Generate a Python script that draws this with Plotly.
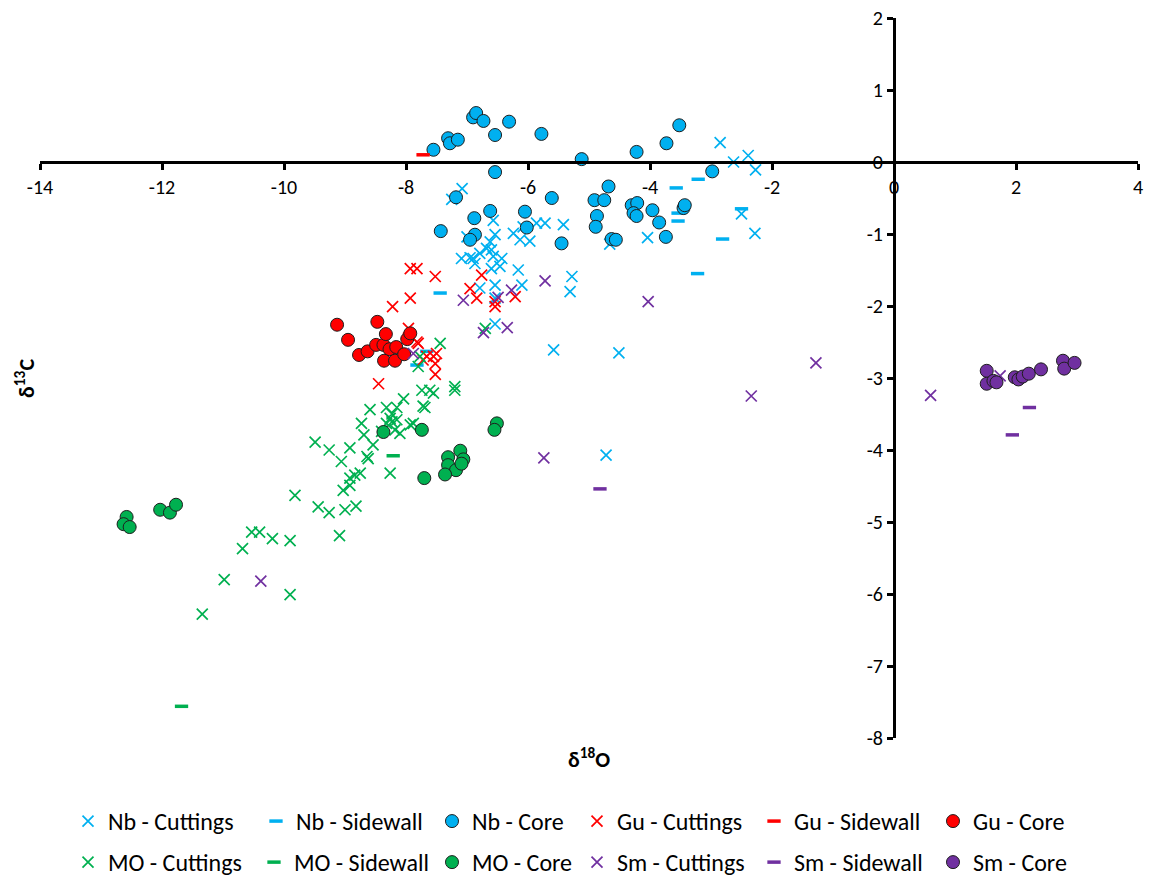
import plotly.graph_objects as go

# ---------------- data ----------------
nb_cut_x = [-2.85, -2.63, -2.39, -2.27, -7.08, -7.25, -2.50, -2.28, -4.04, -4.66,
            -6.57, -6.54, -6.62, -6.24, -6.13, -5.97, -6.08, -5.86, -5.72, -5.42, -7.00,
            -6.68, -6.79, -7.09, -6.90, -6.87, -6.57, -6.43, -6.60, -6.46, -6.16, -6.10,
            -6.54, -6.79, -5.28, -5.31, -6.54, -6.54, -5.58, -4.51, -4.72, -6.60, -6.95]
nb_cut_y = [0.27, 0.00, 0.09, -0.11, -0.37, -0.52, -0.72, -0.99, -1.05, -1.14,
            -0.81, -1.01, -1.11, -0.99, -1.08, -1.10, -0.90, -0.85, -0.85, -0.87, -1.04,
            -1.20, -1.27, -1.34, -1.34, -1.41, -1.31, -1.34, -1.48, -1.45, -1.50, -1.71,
            -1.71, -1.75, -1.59, -1.80, -1.89, -2.25, -2.61, -2.65, -4.07, -1.22, -1.33]

nb_side_x = [-3.21, -3.57, -3.54, -3.54, -2.81, -3.22, -2.50, -7.44, -7.66, -7.82]
nb_side_y = [-0.24, -0.36, -0.71, -0.82, -1.07, -1.55, -0.65, -1.82, -2.63, -2.82]

nb_core_x = [-7.55, -7.31, -7.28, -7.15, -6.90, -6.85, -6.73, -6.54, -6.31, -5.78,
             -5.12, -4.22, -3.73, -3.52, -2.98, -6.54, -7.18, -5.61, -4.68, -4.91,
             -4.75, -6.62, -6.05, -6.88, -6.02, -4.87, -4.89, -4.30, -4.21, -4.27,
             -4.22, -3.96, -3.85, -3.74, -3.45, -3.43, -7.43, -6.87, -6.95, -5.45,
             -4.63, -4.56]
nb_core_y = [0.17, 0.33, 0.26, 0.31, 0.62, 0.68, 0.57, 0.375, 0.56, 0.39,
             0.04, 0.14, 0.26, 0.51, -0.13, -0.14, -0.49, -0.50, -0.34, -0.53,
             -0.53, -0.68, -0.69, -0.78, -0.91, -0.75, -0.90, -0.60, -0.57, -0.71,
             -0.75, -0.67, -0.84, -1.04, -0.64, -0.60, -0.96, -1.01, -1.08, -1.13,
             -1.07, -1.08]

gu_cut_x = [-7.93, -7.82, -7.52, -7.93, -8.22, -6.76, -6.95, -6.84, -6.54, -6.54,
            -6.21, -7.82, -7.72, -7.52, -7.55, -7.52, -8.45, -7.96, -7.66, -7.50, -7.80]
gu_cut_y = [-1.48, -1.48, -1.59, -1.89, -2.01, -1.57, -1.76, -1.89, -1.94, -2.01,
            -1.87, -2.50, -2.75, -2.80, -2.70, -2.95, -3.08, -2.31, -2.70, -2.66, -2.52]

gu_side_x = [-7.72]
gu_side_y = [0.10]

gu_core_x = [-9.13, -8.47, -8.95, -8.77, -8.63, -8.49, -8.37, -8.33, -8.27, -8.16,
             -8.36, -8.18, -8.03, -7.98, -7.93]
gu_core_y = [-2.26, -2.22, -2.47, -2.68, -2.63, -2.54, -2.54, -2.39, -2.60, -2.57,
             -2.76, -2.76, -2.67, -2.46, -2.38]

mo_cut_x = [-7.44, -7.77, -7.80, -7.74, -7.61, -7.55, -7.20, -7.72, -7.69, -8.04,
            -8.32, -8.15, -8.59, -8.73, -8.26, -8.15, -8.32, -7.93, -7.88, -8.10,
            -8.69, -9.49, -9.26, -8.92, -8.54, -9.06, -8.64, -8.26, -8.75, -8.84,
            -8.92, -8.92, -9.03, -9.82, -9.44, -9.26, -9.00, -8.82, -9.09, -10.53,
            -10.40, -10.19, -9.90, -10.68, -10.98, -9.90, -11.34, -6.70, -7.20, -8.23,
            -8.18, -8.40, -8.62, -8.23]
mo_cut_y = [-2.52, -2.70, -2.84, -3.17, -3.17, -3.21, -3.17, -3.39, -3.41, -3.29,
            -3.41, -3.41, -3.44, -3.63, -3.56, -3.58, -3.63, -3.65, -3.63, -3.77,
            -3.79, -3.89, -4.00, -3.97, -3.93, -4.16, -4.09, -4.32, -4.32, -4.35,
            -4.39, -4.49, -4.56, -4.63, -4.79, -4.87, -4.83, -4.78, -5.19, -5.14,
            -5.14, -5.23, -5.26, -5.37, -5.80, -6.01, -6.28, -2.31, -3.12, -3.61,
            -3.72, -3.74, -4.12, -3.50]

mo_side_x = [-8.21, -11.68]
mo_side_y = [-4.08, -7.56]

mo_core_x = [-12.58, -12.63, -12.53, -12.03, -11.87, -11.77, -8.37, -7.74, -7.70,
             -7.31, -7.11, -7.06, -7.31, -7.18, -7.36, -7.09, -6.51, -6.55]
mo_core_y = [-4.93, -5.03, -5.07, -4.83, -4.87, -4.76, -3.75, -3.72, -4.39,
             -4.10, -4.01, -4.13, -4.21, -4.28, -4.34, -4.19, -3.63, -3.72]

sm_cut_x = [-5.72, -7.06, -6.49, -6.27, -6.73, -6.34, -7.88, -4.03, -5.74, -2.34,
            -1.28, 0.60, 1.74, -10.38]
sm_cut_y = [-1.65, -1.92, -1.88, -1.78, -2.37, -2.30, -2.66, -1.94, -4.11, -3.25,
            -2.79, -3.24, -2.97, -5.82]

sm_side_x = [2.22, 1.94, -4.82]
sm_side_y = [-3.41, -3.79, -4.54]

sm_core_x = [1.52, 1.52, 1.63, 1.68, 1.98, 2.04, 2.11, 2.21, 2.41, 2.77, 2.79, 2.96]
sm_core_y = [-2.90, -3.08, -3.04, -3.06, -2.99, -3.02, -2.98, -2.94, -2.88, -2.76, -2.87, -2.79]

x_ticks = [-14, -12, -10, -8, -6, -4, -2, 0, 2, 4]
y_ticks = [2, 1, 0, -1, -2, -3, -4, -5, -6, -7, -8]

# ---------------- styles ----------------
C_NB = "#00B0F0"
C_GU = "#FF0000"
C_MO = "#00B050"
C_SM = "#7030A0"
OUTLINE = "#1e1e1e"

series = [
    ("Nb - Cuttings", nb_cut_x, nb_cut_y, C_NB, "cut", "legend", 143),
    ("Nb - Sidewall", nb_side_x, nb_side_y, C_NB, "side", "legend", 131),
    ("Nb - Core", nb_core_x, nb_core_y, C_NB, "core", "legend", 100),
    ("Gu - Cuttings", gu_cut_x, gu_cut_y, C_GU, "cut", "legend", 132),
    ("Gu - Sidewall", gu_side_x, gu_side_y, C_GU, "side", "legend", 134),
    ("Gu - Core", gu_core_x, gu_core_y, C_GU, "core", "legend", 100),
    ("MO - Cuttings", mo_cut_x, mo_cut_y, C_MO, "cut", "legend2", 141),
    ("MO - Sidewall", mo_side_x, mo_side_y, C_MO, "side", "legend2", 133),
    ("MO - Core", mo_core_x, mo_core_y, C_MO, "core", "legend2", 100),
    ("Sm - Cuttings", sm_cut_x, sm_cut_y, C_SM, "cut", "legend2", 132),
    ("Sm - Sidewall", sm_side_x, sm_side_y, C_SM, "side", "legend2", 134),
    ("Sm - Core", sm_core_x, sm_core_y, C_SM, "core", "legend2", 100),
]

fig = go.Figure()
for name, xs, ys, col, kind, leg, lw in series:
    if kind == "cut":
        marker = dict(symbol="x-thin", size=11, color=col, line=dict(color=col, width=1.7))
    elif kind == "side":
        marker = dict(symbol="line-ew", size=9.5, color=col, line=dict(color=col, width=3.5))
    else:
        marker = dict(symbol="circle", size=13, color=col, line=dict(color=OUTLINE, width=1))
    fig.add_trace(go.Scatter(x=xs, y=ys, mode="markers", name=name, marker=marker,
                             legend=leg, legendwidth=lw, cliponaxis=False))

FONT = "Carlito, Liberation Sans, Arial, sans-serif"

axis_common = dict(showgrid=False, zeroline=False, showline=True, linecolor="black",
                   linewidth=3, ticks="outside", ticklen=6, tickwidth=3, tickcolor="black",
                   tickfont=dict(family=FONT, size=20, color="#000"), anchor="free")

fig.update_layout(
    width=1150, height=881,
    margin=dict(l=40, r=12, t=18, b=143, autoexpand=False),
    paper_bgcolor="white", plot_bgcolor="white",
    xaxis=dict(range=[-14, 4], tickvals=x_ticks, ticktext=[str(v) for v in x_ticks],
               position=0.8, side="bottom", **axis_common),
    yaxis=dict(range=[-8, 2], tickvals=y_ticks, ticktext=[str(v) for v in y_ticks],
               position=14 / 18, side="left", **axis_common),
    legend=dict(orientation="h", x=0.0255, xanchor="left", y=-0.0847, yanchor="top",
                font=dict(family=FONT, size=24, color="#000"), bgcolor="rgba(0,0,0,0)"),
    legend2=dict(orientation="h", x=0.0255, xanchor="left", y=-0.1417, yanchor="top",
                 font=dict(family=FONT, size=24, color="#000"), bgcolor="rgba(0,0,0,0)"),
    annotations=[
        dict(text="<b>δ<sup>18</sup>O</b>", x=0.5, y=-0.028, xref="paper", yref="paper",
             xanchor="center", yanchor="middle", showarrow=False,
             font=dict(family=FONT, size=22, color="#000")),
        dict(text="<b>δ<sup>13</sup>C</b>", x=-0.0137, y=0.5, xref="paper", yref="paper",
             xanchor="center", yanchor="middle", showarrow=False, textangle=-90,
             font=dict(family=FONT, size=22, color="#000")),
    ],
    showlegend=True,
)

fig.write_html("out.html")
